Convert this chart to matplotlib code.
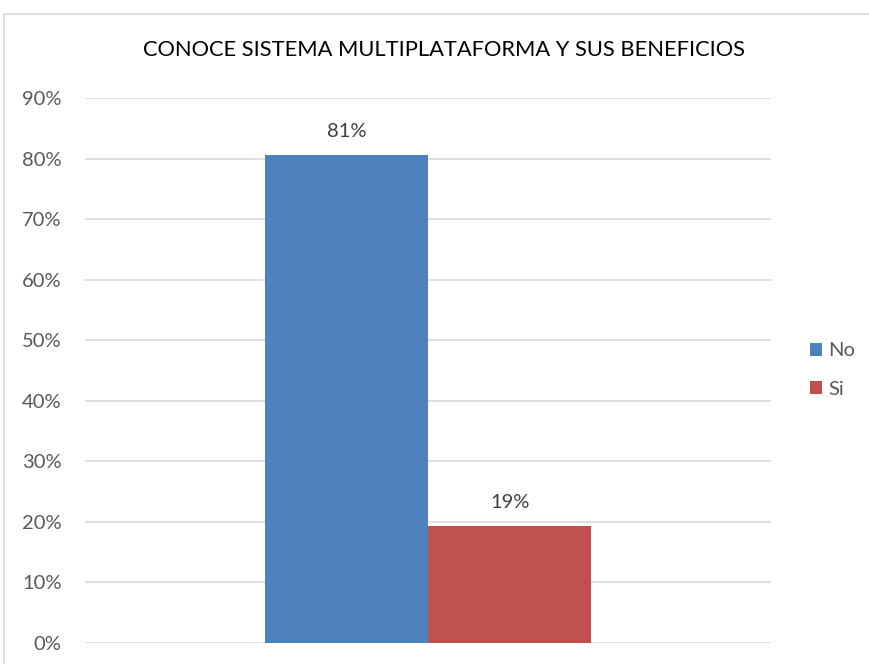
import matplotlib
matplotlib.use("Agg")
import matplotlib.pyplot as plt
from matplotlib.patches import Rectangle, Patch
from matplotlib.ticker import FuncFormatter

title = "CONOCE SISTEMA MULTIPLATAFORMA Y SUS BENEFICIOS"
series_names = ["No", "Si"]
series_values = [0.806, 0.194]
series_labels = ["81%", "19%"]
series_colors = ["#4F81BD", "#C0504D"]
yticks = [0.0, 0.1, 0.2, 0.3, 0.4, 0.5, 0.6, 0.7, 0.8, 0.9]

plt.rcParams['font.family'] = ['Lato', 'DejaVu Sans']

W, H = 870, 664
fig = plt.figure(figsize=(W / 100, H / 100), dpi=100)
fig.patches.append(Rectangle((4 / W, -0.1), 1.2, 1 - 14 / H + 0.1, transform=fig.transFigure,
                             fill=False, edgecolor="#D9D9D9", linewidth=1.2, zorder=0))

ax = fig.add_axes([85 / W, 21 / H, 686 / W, 545 / H])
bw = 0.5
xs = [-0.25, 0.25]
for x, v, c, lab in zip(xs, series_values, series_colors, series_labels):
    ax.bar(x, v, width=bw, color=c, zorder=3)
    ax.annotate(lab, (x, v), xytext=(0, 15), textcoords="offset pixels",
                ha="center", va="bottom", fontsize=14.5, color="#404040")

ax.set_xlim(-1.05, 1.05)
ax.set_ylim(0, 0.9)
ax.set_yticks(yticks)
ax.yaxis.set_major_formatter(FuncFormatter(lambda v, p: f"{v*100:.0f}%"))
ax.set_xticks([])
ax.grid(axis="y", color="#D9D9D9", linewidth=1.2, zorder=0)
for s in ax.spines.values():
    s.set_visible(False)
ax.tick_params(axis="y", length=0, labelsize=14.5, labelcolor="#595959", pad=17)
ax.set_axisbelow(True)

fig.text(444 / W, 1 - 50 / H, title, ha="center", va="center", fontsize=15.75, color="#000000")

handles = [Patch(facecolor=c, edgecolor="none") for c in series_colors]
fig.legend(handles, series_names, loc="center left", bbox_to_anchor=(792 / W, 1 - 370 / H),
           frameon=False, fontsize=14.5, handlelength=0.6, handleheight=0.6, handletextpad=0.3,
           labelspacing=1.05, labelcolor="#595959")

fig.savefig("out.png", dpi=100)
